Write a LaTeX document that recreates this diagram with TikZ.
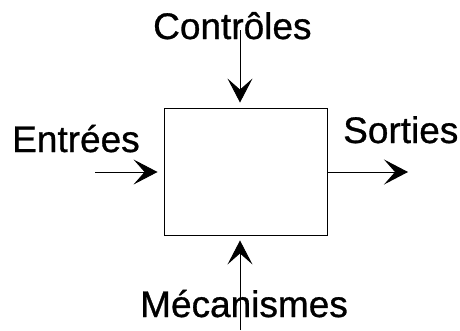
\documentclass[tikz,border=0pt]{standalone}
\usepackage{fontspec}
\setmainfont[FakeBold=0.8]{Liberation Sans}
\usetikzlibrary{arrows.meta}
\begin{document}
\begin{tikzpicture}[x=1pt,y=-1pt,
  lbl/.style={inner sep=0pt,anchor=base west,font=\fontsize{37}{40}\selectfont},
  flow/.style={line width=0.9pt,-{Stealth[length=24pt,width=25pt,inset=11pt]}},
  boxstyle/.style={draw,line width=0.9pt,minimum width=163pt,minimum height=127pt,inner sep=0pt}]
\useasboundingbox (0,0) rectangle (460,330);
\node[boxstyle] (box) at (245.5,171.5) {};
\node[lbl] (ctrl) at (153,39) {Contrôles};
\node[lbl] (entr) at (12,152) {Entrées};
\node[lbl] (sort) at (343,143) {Sorties};
\node[lbl] (meca) at (140,317) {Mécanismes};
\coordinate (ctop) at (240,30);
\coordinate (cbot) at (240,330);
\coordinate (cin) at (95,172);
\coordinate (cout) at (408,172);
\draw[flow,shorten >=5pt] (ctop) -- (box.north -| ctop);
\draw[flow,shorten >=5pt] (cbot) -- (box.south -| cbot);
\draw[flow,shorten >=6pt] (cin) -- (box.west |- cin);
\draw[flow] (box.east |- cout) -- (cout);
\end{tikzpicture}
\end{document}
